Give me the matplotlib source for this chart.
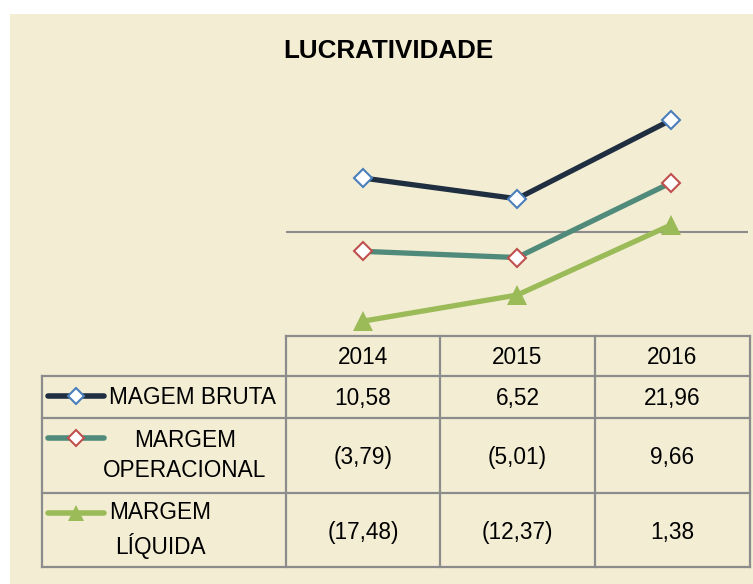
import matplotlib.pyplot as plt
from matplotlib.patches import Rectangle
from matplotlib.lines import Line2D

plt.rcParams['font.family'] = ['Liberation Sans', 'DejaVu Sans']

# dados
years = ['2014', '2015', '2016']
margem_bruta = [10.58, 6.52, 21.96]
margem_operacional = [-3.79, -5.01, 9.66]
margem_liquida = [-17.48, -12.37, 1.38]
row_labels = ['MAGEM BRUTA', 'MARGEM\nOPERACIONAL', 'MARGEM\nLÍQUIDA']

W, H = 753, 584
bg = '#F3EDD3'
grid_c = '#8C8C8C'

styles = [
    dict(color='#1F2E40', marker='D', mfc='white', mec='#4A7EBB', ms=9.5, mew=1.5),
    dict(color='#4F8A7A', marker='D', mfc='white', mec='#C0504D', ms=9.5, mew=1.5),
    dict(color='#9BBB59', marker='^', mfc='#9BBB59', mec='#9BBB59', ms=14, mew=0),
]
series = [margem_bruta, margem_operacional, margem_liquida]


def fmt(v):
    s = f'{abs(v):.2f}'.replace('.', ',')
    return f'({s})' if v < 0 else s


fig = plt.figure(figsize=(W / 100, H / 100), dpi=100, facecolor='white')

# camada de fundo / tabela em pixels
tab = fig.add_axes([0, 0, 1, 1], zorder=0)
tab.set_xlim(0, W)
tab.set_ylim(H, 0)
tab.axis('off')
tab.add_patch(Rectangle((10, 14), W - 10, H - 14, color=bg, lw=0))

fig.text(388 / W, 1 - 51 / H, 'LUCRATIVIDADE', ha='center', va='center',
         fontsize=18.7, fontweight='bold')

# grafico de linhas
ax = fig.add_axes([286 / W, (H - 334) / H, 462 / W, 255 / H], zorder=1)
ax.patch.set_alpha(0)
ax.set_xlim(-0.5, 2.5)
ax.set_ylim(-20, 30)
ax.axhline(0, color=grid_c, lw=1.5, zorder=1)
x = range(len(years))
for vals, st in zip(series, styles):
    ax.plot(x, vals, lw=3.8, solid_capstyle='round', zorder=3, **st)
ax.axis('off')

# tabela
lw = 1.6
col_x = [286, 440, 595, 750]
row_y = [336, 376, 418, 493, 567]
tab.plot([286, 750], [336, 336], color=grid_c, lw=lw)
for y in row_y[1:]:
    tab.plot([42, 750], [y, y], color=grid_c, lw=lw)
tab.plot([42, 42], [376, 567], color=grid_c, lw=lw)
for cx in col_x:
    tab.plot([cx, cx], [336, 567], color=grid_c, lw=lw)

fs = 16.3
for i, yr in enumerate(years):
    tab.text((col_x[i] + col_x[i + 1]) / 2, 357, yr, ha='center', va='center', fontsize=fs)

label_x = [193, 185, 160]
key_y = [396, 438, 513]
for r, (lab, vals, st) in enumerate(zip(row_labels, series, styles)):
    yc = (row_y[r + 1] + row_y[r + 2]) / 2
    tab.text(label_x[r], yc, lab, ha='center', va='center', fontsize=fs,
             multialignment='center', linespacing=1.4)
    tab.add_line(Line2D([48, 104], [key_y[r], key_y[r]], lw=4,
                        solid_capstyle='round', color=st['color']))
    kst = dict(st)
    kst['ms'] = st['ms'] * 0.85
    kst.pop('color')
    tab.plot([76], [key_y[r]], ls='none', **kst)
    for i, v in enumerate(vals):
        tab.text((col_x[i] + col_x[i + 1]) / 2, yc + 2, fmt(v), ha='center',
                 va='center', fontsize=fs)

fig.savefig('out.png', dpi=100, facecolor='white')
